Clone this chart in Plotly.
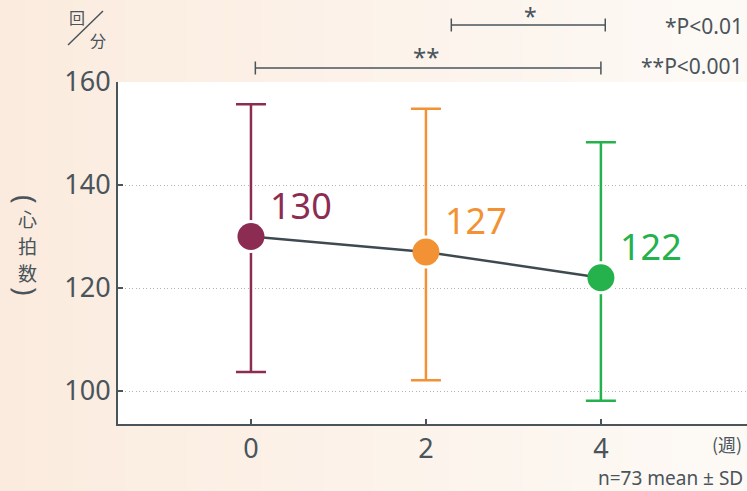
import plotly.graph_objects as go

# --- data -------------------------------------------------------------
weeks = [0, 2, 4]
week_labels = ["0", "2", "4"]
mean_hr = [130, 127, 122]
sd_top = [155.7, 154.8, 148.3]      # mean + SD
sd_bottom = [103.7, 102.1, 98.1]    # mean - SD
point_colors = ["#8c2c52", "#f29234", "#25b14c"]
y_ticks = [100, 120, 140, 160]
y_title_chars = ["心", "拍", "数"]

# --- layout geometry (pixels) ----------------------------------------
W, H = 747, 491
ML, MR, MT, MB = 118, 0, 82, 67
PW, PH = W - ML - MR, H - MT - MB
X_RANGE = [-1.52, 5.67]
Y_RANGE = [93.6, 160]

INK = "#4a545b"
NUM_FONT = "Noto Sans, Open Sans, sans-serif"
CJK_FONT = "Noto Sans CJK JP, Noto Sans, sans-serif"


def px_x(p):
    return (p - ML) / PW


def px_y(p):
    return (H - MB - p) / PH


def data_x(v):
    return (v - X_RANGE[0]) / (X_RANGE[1] - X_RANGE[0])


err_plus = [t - m for t, m in zip(sd_top, mean_hr)]
err_minus = [m - b for m, b in zip(mean_hr, sd_bottom)]

fig = go.Figure()

# SD whiskers, each with a white halo disc so the bar stops short of the dot
for i in range(len(weeks)):
    fig.add_trace(go.Scatter(
        x=[weeks[i]], y=[mean_hr[i]], mode="markers",
        marker=dict(size=33, color="white", line=dict(width=0)),
        error_y=dict(type="data", array=[err_plus[i]], arrayminus=[err_minus[i]],
                     color=point_colors[i], thickness=2.5, width=15),
        showlegend=False, hoverinfo="skip", cliponaxis=False,
    ))

# connecting line
fig.add_trace(go.Scatter(
    x=weeks, y=mean_hr, mode="lines",
    line=dict(color="#3e4a50", width=2.5),
    showlegend=False, hoverinfo="skip",
))

# mean dots
fig.add_trace(go.Scatter(
    x=weeks, y=mean_hr, mode="markers",
    marker=dict(size=27, color=point_colors, line=dict(width=0)),
    showlegend=False, cliponaxis=False,
))

# value labels
for wk, m, c in zip(weeks, mean_hr, point_colors):
    fig.add_annotation(
        x=wk, y=m, xref="x", yref="y", text=str(m), showarrow=False,
        xanchor="left", yanchor="middle", xshift=17, yshift=31,
        font=dict(family=NUM_FONT, size=36, color=c),
    )

# --- background: warm gradient outside the plot, white inside ---------
shapes = []
n_strips = 60
c0 = (251, 235, 222)
c1 = (253, 250, 246)
for k in range(n_strips):
    t = k / (n_strips - 1)
    col = tuple(round(a + (b - a) * t) for a, b in zip(c0, c1))
    shapes.append(dict(
        type="rect", xref="paper", yref="paper", layer="below",
        x0=px_x(k * W / n_strips), x1=px_x((k + 1) * W / n_strips + 1),
        y0=px_y(H), y1=px_y(0),
        fillcolor="rgb(%d,%d,%d)" % col, line=dict(width=0),
    ))
shapes.append(dict(
    type="rect", xref="paper", yref="paper", layer="below",
    x0=0, x1=1, y0=0, y1=1, fillcolor="white", line=dict(width=0),
))


# significance brackets
def bracket(xa, xb, py, tick=6.5):
    yb = px_y(py)
    style = dict(color=INK, width=1.5)
    return [
        dict(type="line", xref="paper", yref="paper", x0=xa, x1=xb, y0=yb, y1=yb, line=style),
        dict(type="line", xref="paper", yref="paper", x0=xa, x1=xa,
             y0=px_y(py - tick), y1=px_y(py + tick), line=style),
        dict(type="line", xref="paper", yref="paper", x0=xb, x1=xb,
             y0=px_y(py - tick), y1=px_y(py + tick), line=style),
    ]


shapes += bracket(data_x(0.05), data_x(4.0), 68)
shapes += bracket(data_x(2.29), data_x(4.05), 25)

# slash of the 回/分 unit mark
shapes.append(dict(type="line", xref="paper", yref="paper",
                   x0=px_x(68), y0=px_y(45), x1=px_x(103), y1=px_y(11),
                   line=dict(color=INK, width=1.5)))

fig.update_layout(shapes=shapes)


def note(text, px, py, size, family=NUM_FONT, xanchor="center", angle=0):
    fig.add_annotation(x=px_x(px), y=px_y(py), xref="paper", yref="paper", text=text,
                       showarrow=False, xanchor=xanchor, yanchor="middle",
                       textangle=angle, font=dict(family=family, size=size, color=INK))


# significance stars and p-value key
note("*", 530, 16, 23)
note("**", 426, 56, 24)
note("*P<0.01", 745, 26, 21, xanchor="right")
note("**P<0.001", 745, 66, 21, xanchor="right")

# unit mark
note("回", 77, 17, 16, CJK_FONT)
note("分", 98, 40, 16, CJK_FONT)

# vertical y-axis caption: upright characters between turned brackets
note("(", 27, 199, 29, NUM_FONT, angle=90)
for j, ch in enumerate(y_title_chars):
    note(ch, 27, 218 + 27 * j, 19, CJK_FONT)
note(")", 27, 291, 29, NUM_FONT, angle=90)

note("(週)", 727, 444, 18, CJK_FONT)
note("n=73 mean ± SD", 745, 478, 19, xanchor="right")

fig.update_xaxes(
    range=X_RANGE, tickvals=weeks, ticktext=week_labels,
    showgrid=False, zeroline=False,
    showline=True, linecolor=INK, linewidth=2,
    ticks="inside", ticklen=5, tickwidth=1.5, tickcolor=INK,
    tickfont=dict(family=NUM_FONT, size=27, color=INK),
)
fig.update_yaxes(
    range=Y_RANGE, tickvals=y_ticks,
    showgrid=True, gridcolor="#b4b4b4", griddash="1px,2.5px", gridwidth=1,
    zeroline=False,
    showline=True, linecolor=INK, linewidth=2,
    ticks="inside", ticklen=5, tickwidth=1.5, tickcolor=INK,
    tickfont=dict(family=NUM_FONT, size=27, color=INK),
)

fig.update_layout(
    width=W, height=H,
    margin=dict(l=ML, r=MR, t=MT, b=MB, pad=0),
    paper_bgcolor="#fcf4ec", plot_bgcolor="rgba(0,0,0,0)",
    showlegend=False,
)

fig.write_html("out.html")
